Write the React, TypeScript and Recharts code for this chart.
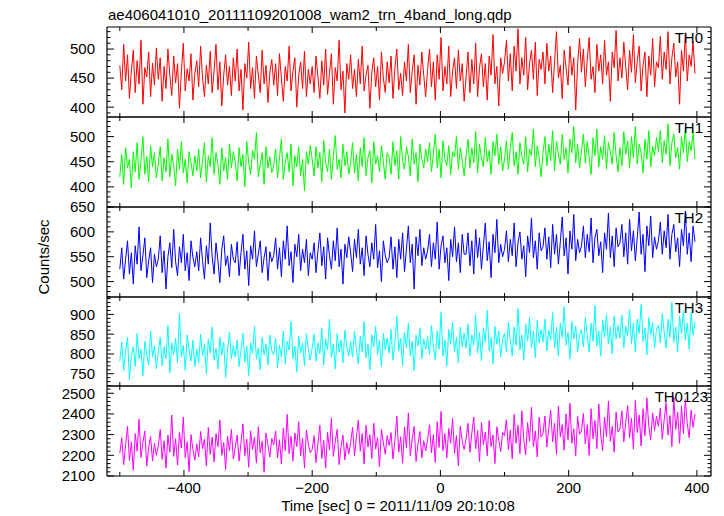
import { LineChart, Line, XAxis, YAxis } from "recharts";

// sampling grid (seconds from 2011/11/09 20:10:08)
const T0 = -500;
const DT = 3;

const th0 = [
  472, 430, 508, 445, 490, 415, 462, 498, 425, 480, 440, 515, 405, 468, 452, 495, 418, 476, 438, 502,
  448, 485, 410, 470, 432, 500, 455, 420, 488, 442, 475, 398, 462, 510, 428, 466, 445, 492, 412, 458,
  480, 435, 505, 450, 418, 472, 440, 496, 425, 462, 508, 430, 478, 402, 455, 490, 438, 470, 420, 485,
  445, 500, 428, 465, 395, 475, 450, 512, 432, 468, 415, 488, 455, 425, 498, 440, 472, 408, 460, 482,
  438, 475, 420, 492, 450, 410, 470, 445, 505, 428, 462, 485, 400, 455, 478, 432, 496, 418, 465, 440,
  470, 425, 488, 452, 415, 480, 438, 500, 422, 458, 492, 405, 468, 445, 515, 430, 462, 390, 475, 448,
  490, 432, 465, 418, 482, 440, 505, 428, 455, 472, 398, 460, 485, 435, 470, 412, 495, 450, 425, 478,
  442, 488, 415, 468, 500, 430, 458, 420, 478, 445, 508, 425, 462, 490, 405, 472, 438, 495, 455, 418,
  465, 500, 435, 478, 412, 490, 448, 520, 428, 470, 440, 505, 418, 462, 485, 432, 498, 445, 475, 410,
  452, 495, 425, 482, 440, 510, 418, 468, 492, 435, 475, 412, 488, 455, 525, 440, 470, 402, 485, 458,
  478, 515, 445, 492, 428, 505, 462, 535, 440, 485, 455, 520, 430, 475, 498, 448, 512, 420, 482, 465,
  495, 440, 510, 462, 488, 425, 478, 530, 450, 472, 415, 498, 468, 438, 505, 455, 485, 395, 475, 518,
  460, 500, 435, 482, 520, 448, 470, 425, 508, 462, 490, 440, 515, 455, 478, 410, 495, 468, 532, 445,
  485, 450, 512, 470, 430, 498, 460, 525, 442, 480, 505, 428, 472, 495, 418, 488, 455, 518, 435, 478,
  468, 522, 448, 495, 465, 530, 440, 485, 510, 452, 478, 405, 498, 462, 528, 445, 490, 470, 512, 458,
];

const th1 = [
  420, 465, 405, 478, 438, 455, 398, 470, 430, 488, 415, 452, 500, 425, 460, 410, 482, 440, 468, 418,
  445, 480, 412, 458, 430, 495, 420, 465, 442, 402, 475, 435, 490, 428, 455, 408, 470, 448, 422, 462,
  432, 475, 418, 452, 488, 410, 462, 440, 498, 425, 468, 445, 405, 478, 432, 458, 415, 485, 438, 470,
  450, 412, 478, 440, 465, 400, 490, 448, 425, 472, 455, 508, 420, 445, 468, 405, 480, 438, 460, 428,
  442, 475, 418, 458, 495, 415, 450, 468, 430, 485, 402, 462, 440, 480, 422, 455, 392, 470, 445, 482,
  455, 422, 480, 438, 468, 410, 492, 448, 430, 475, 415, 460, 502, 435, 455, 418, 485, 442, 470, 425,
  448, 488, 428, 465, 412, 478, 440, 498, 422, 458, 472, 408, 490, 445, 462, 430, 482, 450, 415, 468,
  458, 425, 490, 442, 472, 415, 500, 452, 435, 480, 460, 422, 495, 445, 468, 410, 485, 455, 438, 475,
  450, 488, 430, 465, 505, 438, 475, 418, 492, 455, 442, 482, 425, 470, 460, 500, 435, 478, 452, 422,
  462, 495, 438, 478, 448, 510, 428, 485, 458, 440, 498, 450, 472, 425, 490, 462, 505, 445, 480, 432,
  455, 492, 435, 478, 508, 442, 470, 425, 488, 460, 445, 500, 430, 475, 462, 515, 440, 482, 458, 420,
  468, 500, 442, 485, 452, 512, 432, 490, 465, 445, 505, 455, 478, 428, 495, 468, 520, 448, 485, 438,
  472, 505, 448, 490, 458, 425, 498, 462, 515, 440, 480, 455, 502, 435, 488, 470, 445, 508, 462, 430,
  478, 442, 510, 465, 492, 438, 500, 458, 520, 445, 485, 468, 428, 495, 455, 512, 440, 480, 462, 498,
  470, 512, 448, 492, 465, 525, 442, 488, 505, 458, 478, 435, 500, 468, 518, 450, 490, 472, 508, 455,
];

const th2 = [
  525, 568, 505, 545, 582, 515, 558, 495, 572, 535, 610, 522, 552, 588, 508, 542, 568, 498, 555, 530,
  545, 592, 518, 562, 485, 550, 578, 528, 605, 540, 512, 570, 538, 595, 522, 558, 502, 582, 548, 530,
  560, 522, 588, 542, 505, 572, 535, 618, 550, 515, 578, 542, 498, 565, 592, 532, 552, 510, 575, 545,
  538, 580, 512, 558, 595, 525, 562, 492, 572, 545, 602, 530, 555, 582, 518, 548, 570, 502, 560, 540,
  552, 588, 525, 568, 510, 582, 545, 612, 532, 560, 498, 575, 550, 595, 522, 565, 538, 585, 512, 558,
  545, 578, 518, 562, 598, 532, 570, 505, 588, 552, 525, 582, 542, 608, 530, 565, 495, 575, 548, 590,
  558, 520, 585, 548, 605, 535, 568, 512, 592, 555, 530, 578, 545, 615, 528, 562, 500, 582, 552, 538,
  548, 590, 525, 570, 508, 585, 545, 598, 520, 565, 612, 538, 575, 485, 590, 552, 605, 532, 568, 545,
  562, 595, 530, 578, 545, 620, 525, 572, 592, 538, 568, 502, 585, 550, 610, 540, 578, 518, 595, 555,
  555, 598, 532, 582, 515, 605, 548, 588, 525, 572, 618, 542, 580, 508, 595, 558, 625, 538, 575, 550,
  565, 602, 540, 585, 552, 618, 530, 578, 600, 545, 572, 510, 592, 558, 628, 548, 582, 525, 598, 562,
  570, 608, 545, 590, 528, 615, 555, 595, 535, 580, 630, 552, 588, 515, 602, 565, 635, 542, 585, 558,
  572, 612, 548, 595, 560, 628, 538, 588, 605, 552, 580, 518, 598, 565, 638, 548, 592, 530, 608, 570,
  578, 615, 550, 598, 535, 625, 562, 602, 542, 588, 640, 555, 595, 520, 612, 572, 632, 548, 590, 565,
  582, 620, 555, 602, 568, 635, 545, 595, 615, 560, 588, 530, 605, 572, 642, 555, 598, 540, 612, 580,
];

const th3 = [
  782, 830, 758, 808, 842, 735, 795, 818, 768, 852, 788, 812, 745, 832, 800, 772, 858, 792, 820, 762,
  805, 842, 770, 818, 788, 872, 752, 828, 798, 840, 778, 902, 792, 822, 758, 848, 810, 782, 835, 768,
  812, 778, 850, 795, 825, 750, 838, 802, 868, 785, 815, 762, 842, 798, 830, 740, 810, 855, 788, 822,
  792, 835, 768, 812, 852, 780, 820, 745, 828, 802, 870, 788, 815, 760, 842, 798, 825, 772, 848, 808,
  798, 840, 765, 822, 792, 858, 775, 832, 810, 882, 788, 820, 755, 845, 802, 828, 770, 852, 812, 785,
  815, 850, 782, 828, 800, 865, 772, 838, 810, 888, 792, 825, 762, 852, 805, 835, 778, 860, 818, 795,
  830, 792, 858, 812, 775, 845, 805, 882, 790, 825, 760, 848, 818, 870, 798, 835, 768, 852, 810, 840,
  802, 862, 785, 828, 895, 808, 840, 770, 855, 815, 878, 795, 832, 758, 848, 820, 865, 788, 838, 812,
  845, 798, 872, 820, 785, 858, 812, 905, 795, 835, 770, 862, 825, 880, 805, 842, 778, 868, 818, 852,
  815, 875, 795, 848, 822, 898, 802, 855, 782, 865, 830, 910, 808, 842, 775, 870, 825, 858, 792, 838,
  852, 805, 880, 835, 795, 868, 822, 915, 810, 848, 785, 875, 832, 892, 815, 858, 790, 885, 828, 862,
  830, 888, 808, 860, 835, 905, 815, 868, 795, 878, 842, 920, 822, 855, 788, 882, 838, 870, 805, 850,
  862, 818, 892, 845, 805, 878, 832, 922, 820, 858, 795, 885, 842, 900, 825, 868, 800, 895, 838, 872,
  840, 898, 815, 870, 845, 912, 825, 878, 805, 888, 852, 925, 832, 865, 798, 892, 848, 880, 815, 862,
  872, 828, 902, 855, 815, 888, 842, 930, 830, 868, 805, 895, 852, 910, 835, 878, 812, 905, 848, 882,
];

const th0123 = [
  2210, 2285, 2155, 2250, 2340, 2175, 2265, 2128, 2305, 2220, 2375, 2190, 2262, 2318, 2148, 2238, 2292, 2172, 2258, 2200,
  2245, 2325, 2180, 2270, 2138, 2298, 2215, 2395, 2195, 2280, 2152, 2310, 2235, 2385, 2188, 2265, 2122, 2300, 2228, 2178,
  2255, 2192, 2315, 2232, 2278, 2148, 2335, 2205, 2288, 2168, 2305, 2242, 2370, 2200, 2262, 2132, 2292, 2222, 2325, 2182,
  2238, 2298, 2172, 2262, 2352, 2198, 2278, 2142, 2318, 2228, 2288, 2162, 2338, 2212, 2268, 2118, 2308, 2248, 2192, 2282,
  2250, 2318, 2188, 2275, 2158, 2332, 2222, 2398, 2208, 2292, 2172, 2308, 2242, 2362, 2198, 2282, 2138, 2322, 2255, 2212,
  2228, 2295, 2165, 2258, 2345, 2185, 2272, 2138, 2312, 2225, 2380, 2195, 2268, 2325, 2155, 2242, 2298, 2178, 2262, 2205,
  2262, 2335, 2198, 2288, 2370, 2220, 2305, 2158, 2345, 2240, 2300, 2185, 2355, 2230, 2285, 2145, 2325, 2260, 2205, 2295,
  2248, 2310, 2182, 2272, 2390, 2215, 2290, 2162, 2338, 2235, 2405, 2198, 2278, 2340, 2170, 2255, 2315, 2188, 2270, 2222,
  2275, 2348, 2212, 2300, 2165, 2362, 2238, 2412, 2222, 2305, 2188, 2330, 2258, 2378, 2210, 2295, 2150, 2340, 2268, 2228,
  2280, 2355, 2215, 2308, 2385, 2232, 2320, 2170, 2358, 2252, 2312, 2198, 2368, 2242, 2298, 2160, 2338, 2272, 2218, 2310,
  2295, 2372, 2228, 2322, 2182, 2398, 2258, 2345, 2208, 2415, 2278, 2202, 2358, 2268, 2432, 2242, 2318, 2192, 2385, 2288,
  2305, 2390, 2240, 2335, 2418, 2265, 2355, 2205, 2438, 2290, 2348, 2225, 2400, 2275, 2452, 2258, 2328, 2198, 2388, 2302,
  2318, 2402, 2255, 2348, 2200, 2425, 2280, 2368, 2232, 2448, 2298, 2222, 2385, 2290, 2462, 2268, 2340, 2215, 2410, 2312,
  2328, 2415, 2265, 2360, 2440, 2285, 2380, 2230, 2465, 2310, 2395, 2245, 2425, 2295, 2478, 2340, 2275, 2405, 2320, 2390,
  2340, 2428, 2278, 2372, 2455, 2298, 2392, 2242, 2480, 2325, 2408, 2258, 2438, 2305, 2470, 2352, 2285, 2418, 2335, 2400,
];

const seriesNames = ["TH0", "TH1", "TH2", "TH3", "TH0123"];
const seriesValues = [th0, th1, th2, th3, th0123];
const seriesColors = ["#ff0000", "#00ff00", "#0000ff", "#00ffff", "#ff00ff"];

const yDomains: [number, number][] = [[383, 538], [360, 539], [469, 650], [719, 944], [2100, 2535]];
const yMajor = [
  [400, 450, 500],
  [400, 450, 500],
  [500, 550, 600, 650],
  [750, 800, 850, 900],
  [2100, 2200, 2300, 2400, 2500],
];
const yMinorStep = [10, 10, 10, 10, 20];

const xDomain: [number, number] = [-520, 422];
const xMajor = [-400, -200, 0, 200, 400];
const xTicks = [-500, -400, -300, -200, -100, 0, 100, 200, 300, 400];

const xTitle = "Time [sec] 0 = 2011/11/09 20:10:08";
const yTitle = "Counts/sec";
const title = "ae406041010_20111109201008_wam2_trn_4band_long.qdp";

const panelEdges = [27, 117, 207, 297, 386, 476];
const labelRight = [703, 703, 703, 703, 708];

const FONT = "'Liberation Sans', Arial, Helvetica, sans-serif";
const FRAME = "#000";

const fmt = (v: number) => (v < 0 ? "\u2212" + Math.abs(v) : String(v));

const yTickList = (i: number) => {
  const [lo, hi] = yDomains[i];
  const out: number[] = [];
  const s = yMinorStep[i];
  for (let v = Math.ceil(lo / s) * s; v <= hi; v += s) out.push(v);
  return out;
};

const XTick = ({ x, y, payload, top, labels }: any) => {
  const v = payload.value;
  const len = xMajor.includes(v) ? 6 : 4;
  return (
    <g>
      <line x1={x} x2={x} y1={y} y2={top ? y + len : y - len} stroke={FRAME} strokeWidth={1} />
      {labels && xMajor.includes(v) && (
        <text x={x} y={y + 17} textAnchor="middle" fontFamily={FONT} fontSize={15} fill="#000">
          {fmt(v)}
        </text>
      )}
    </g>
  );
};

const YTick = ({ x, y, payload, right, majors }: any) => {
  const v = payload.value;
  const major = majors.includes(v);
  const len = major ? 7 : 3.5;
  return (
    <g>
      <line x1={x} x2={right ? x - len : x + len} y1={y} y2={y} stroke={FRAME} strokeWidth={1} />
      {!right && major && (
        <text x={x - 12} y={y} dy="0.36em" textAnchor="end" fontFamily={FONT} fontSize={15} fill="#000">
          {v}
        </text>
      )}
    </g>
  );
};

const Panel = ({ i }: { i: number }) => {
  const T = panelEdges[i];
  const B = panelEdges[i + 1];
  const last = i === 4;
  const mb = last ? 30 : 10;
  const height = B - T + 11 + mb + 1;
  const data = seriesValues[i].map((v, k) => ({ t: T0 + k * DT, v }));
  const ticks = yTickList(i);
  return (
    <div style={{ position: "absolute", left: 0, top: T - 11 }}>
      <LineChart width={724} height={height} data={data} margin={{ top: 10, right: 12, bottom: mb, left: 47 }}>
        <XAxis
          xAxisId="b"
          type="number"
          dataKey="t"
          domain={xDomain}
          ticks={xTicks}
          interval={0}
          allowDataOverflow
          height={1}
          tickSize={0}
          tickMargin={0}
          tickLine={false}
          axisLine={{ stroke: FRAME, strokeWidth: 1.2 }}
          tick={(p: any) => <XTick {...p} labels={last} />}
        />
        <XAxis
          xAxisId="t"
          orientation="top"
          type="number"
          dataKey="t"
          domain={xDomain}
          ticks={xTicks}
          interval={0}
          allowDataOverflow
          height={1}
          tickSize={0}
          tickMargin={0}
          tickLine={false}
          axisLine={{ stroke: FRAME, strokeWidth: 1.2 }}
          tick={(p: any) => <XTick {...p} top />}
        />
        <YAxis
          yAxisId="l"
          type="number"
          domain={yDomains[i]}
          ticks={ticks}
          interval={0}
          allowDataOverflow
          width={60}
          tickSize={0}
          tickMargin={0}
          tickLine={false}
          axisLine={{ stroke: FRAME, strokeWidth: 1.2 }}
          tick={(p: any) => <YTick {...p} majors={yMajor[i]} />}
        />
        <YAxis
          yAxisId="r"
          orientation="right"
          type="number"
          domain={yDomains[i]}
          ticks={ticks}
          interval={0}
          allowDataOverflow
          width={1}
          tickSize={0}
          tickMargin={0}
          tickLine={false}
          axisLine={{ stroke: FRAME, strokeWidth: 1.2 }}
          tick={(p: any) => <YTick {...p} right majors={yMajor[i]} />}
        />
        <Line
          xAxisId="b"
          yAxisId="l"
          type="linear"
          dataKey="v"
          stroke={seriesColors[i]}
          strokeWidth={1}
          dot={false}
          isAnimationActive={false}
        />
      </LineChart>
    </div>
  );
};

export default function App() {
  return (
    <div style={{ position: "absolute", left: 0, top: 0, width: 724, height: 516, background: "#fff", overflow: "hidden" }}>
      {seriesNames.map((_, i) => (
        <Panel key={i} i={i} />
      ))}
      <svg width={724} height={516} style={{ position: "absolute", left: 0, top: 0, pointerEvents: "none" }}>
        <text x={108} y={20} fontFamily={FONT} fontSize={15} fill="#000">
          {title}
        </text>
        <text x={398} y={511} textAnchor="middle" fontFamily={FONT} fontSize={15} fill="#000">
          {xTitle}
        </text>
        <text
          transform="translate(49,257) rotate(-90)"
          textAnchor="middle"
          fontFamily={FONT}
          fontSize={15}
          fill="#000"
        >
          {yTitle}
        </text>
        {seriesNames.map((n, i) => (
          <text key={n} x={labelRight[i]} y={panelEdges[i] + 16} textAnchor="end" fontFamily={FONT} fontSize={15} fill="#000">
            {n}
          </text>
        ))}
      </svg>
    </div>
  );
}
